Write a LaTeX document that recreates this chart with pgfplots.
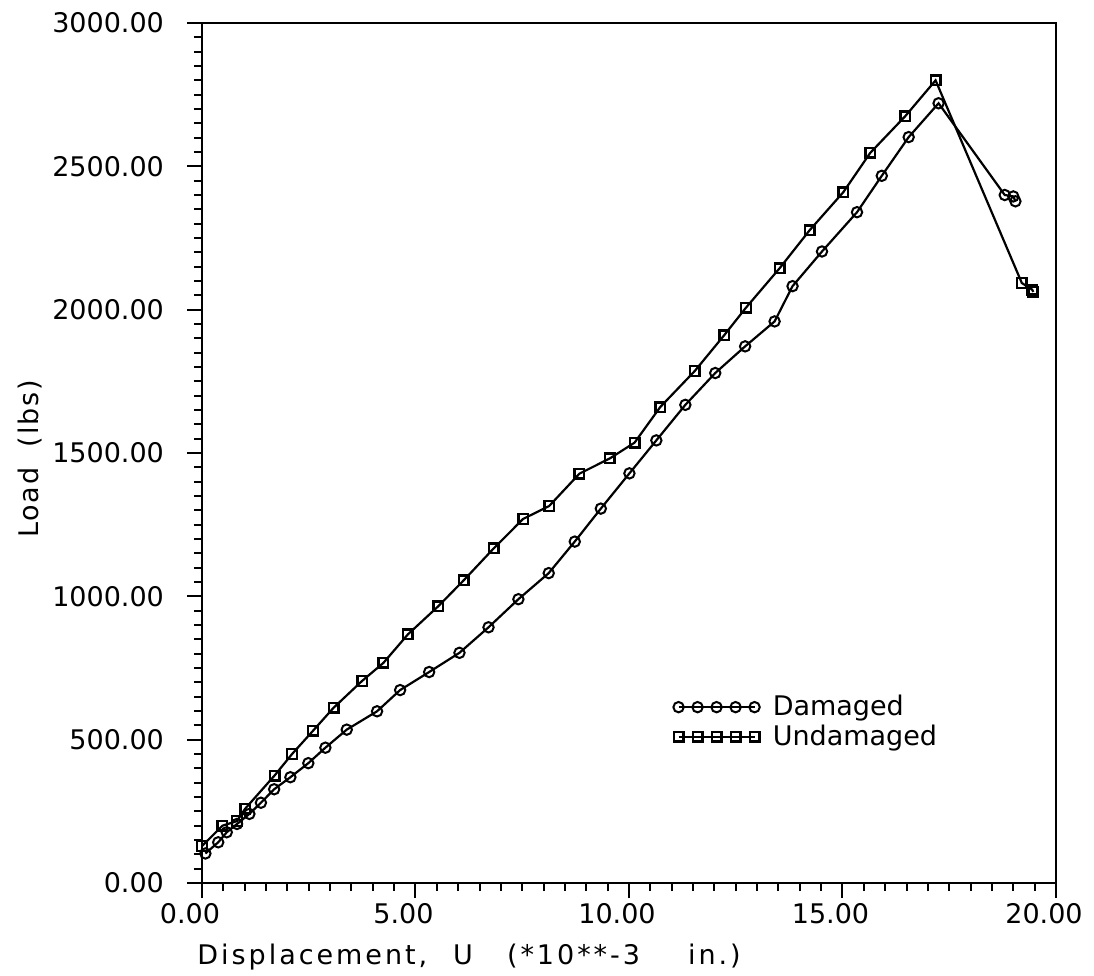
\documentclass[border=0pt]{standalone}
\usepackage{fontspec}
\setmainfont{DejaVu Sans}
\newfontfamily\labfont[LetterSpace=6.5]{DejaVu Sans}
\newfontfamily\xlabfont[LetterSpace=11]{DejaVu Sans}
\usepackage{pgfplots}
\pgfplotsset{compat=1.18}
\begin{document}
\begin{tikzpicture}
\path[use as bounding box] (-101pt,-46.5pt) rectangle (446pt,441.5pt);
\begin{axis}[
  at={(0,0)}, anchor=south west,
  scale only axis,
  width=427pt, height=430pt,
  xmin=0, xmax=20, ymin=0, ymax=3000,
  xtick={0,5,...,20}, ytick={0,500,...,3000},
  minor x tick num=9, minor y tick num=9,
  tick align=outside, xtick pos=bottom, ytick pos=left,
  major tick length=7.5pt, minor tick length=4pt,
  every tick/.style={black, line width=1pt},
  axis line style={line width=1.2pt},
  /pgf/number format/.cd, fixed, fixed zerofill, precision=2, 1000 sep={}, assume math mode=true,
  /pgfplots/.cd,
  tick label style={font=\fontsize{13.5}{16}\selectfont},
  xticklabel style={xshift=-6pt, yshift=1pt},
  yticklabel style={xshift=-8pt},
  xlabel={\xlabfont Displacement,\hspace{13pt}U\hspace{17pt}(*10**-3\hspace{24pt}in.)},
  xlabel style={at={(axis description cs:0,0)}, anchor=west, xshift=-2.5pt, yshift=-37pt, inner sep=0pt},
  ylabel={\labfont Load\ \ (lbs)},
  ylabel style={at={(axis description cs:-0.2014,0.493)}, anchor=center, inner sep=0pt},
  label style={font=\fontsize{13.5}{16}\selectfont},
  legend style={at={(rel axis cs:0.5515,0.2186)}, anchor=north west, draw=none, fill=none,
    font=\fontsize{13.5}{16}\selectfont, row sep=3pt, inner sep=0pt,
    nodes={inner sep=0pt},
    /tikz/every odd column/.append style={column sep=6.5pt}},
  legend cell align=left,
  legend image code/.code={\draw[mark repeat=1,#1] plot coordinates {(2.5pt,0pt) (12pt,0pt) (21.5pt,0pt) (31pt,0pt) (40.5pt,0pt)};},
]
\addplot[black, line width=1.1pt, mark=o, mark size=2.6pt, mark options={line width=1pt, fill=white}] coordinates {
(0.08,103) (0.38,142) (0.58,177) (0.82,206) (1.11,241) (1.38,280) (1.69,327)
(2.07,369) (2.49,418) (2.89,472) (3.39,535) (4.10,599) (4.64,673) (5.32,736)
(6.03,803) (6.71,892) (7.41,990) (8.12,1081) (8.73,1191) (9.34,1306) (10.01,1429)
(10.64,1544) (11.32,1668) (12.02,1779) (12.72,1872) (13.41,1959) (13.83,2082)
(14.52,2203) (15.34,2340) (15.92,2467) (16.55,2602) (17.25,2720) (18.8,2400)
(19.0,2395) (19.05,2378)
};
\addlegendentry{Damaged}
\addplot[black, line width=1.1pt, mark=square, mark size=2.4pt, mark options={line width=1.2pt, fill=white}] coordinates {
(0.0,129) (0.48,200) (0.82,216) (1.01,259) (1.70,375) (2.11,450) (2.60,531)
(3.08,611) (3.75,705) (4.25,768) (4.82,867) (5.53,965) (6.13,1056) (6.83,1167)
(7.52,1270) (8.13,1315) (8.84,1428) (9.55,1481) (10.13,1536) (10.73,1660)
(11.54,1786) (12.23,1911) (12.74,2007) (13.53,2145) (14.23,2277) (15.02,2410)
(15.65,2547) (16.47,2675) (17.18,2800) (19.2,2093) (19.44,2070) (19.47,2062)
};
\addlegendentry{Undamaged}
\end{axis}
\end{tikzpicture}
\end{document}
